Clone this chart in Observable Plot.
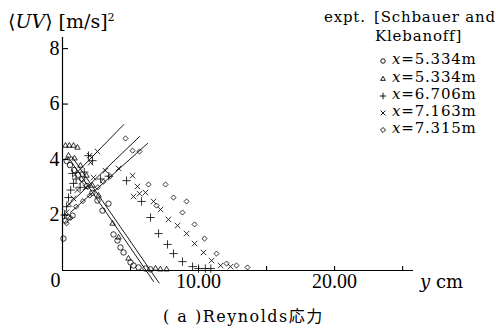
<!DOCTYPE html>
<html><head><meta charset="utf-8">
<script src="https://cdn.jsdelivr.net/npm/d3@7"></script>
<script src="https://cdn.jsdelivr.net/npm/@observablehq/plot@0.6"></script>
<style>
body{margin:0;background:#fff}
#wrap{position:relative;width:496px;height:332px;font-family:"DejaVu Serif",serif;color:#000;overflow:hidden}
#wrap svg.plot{position:absolute;left:0;top:0}
#wrap svg.plot text{font-family:"Liberation Serif",serif !important;font-size:20px !important}
.t{position:absolute;white-space:nowrap;line-height:1}
</style></head><body><div id="wrap"></div>
<script>
// ---- data ----
const seriesLabels = ["x=5.334m", "x=5.334m", "x=6.706m", "x=7.163m", "x=7.315m"];
const seriesSymbols = ["circle", "triangle2", "plus", "times", "diamond2"];

const circX = [0.07,0.22,0.44,0.74,0.3,0.55,0.85,1.15,1.45,1.8,2.2,2.57,2.94,3.38,3.75,4.04,4.26,4.49,5.0,5.22,5.59,6.1,6.47];
const circY = [1.15,1.8,1.91,1.98,3.95,3.8,3.62,3.45,3.3,3.05,2.8,2.52,2.16,2.41,1.3,1.08,0.83,0.65,0.29,0.18,0.11,0.07,0.04];

const triX = [0.22,0.5,0.81,1.1,0.44,0.88,1.32,1.76,2.2,2.65,3.68,4.12,4.85,6.84,7.2,7.65];
const triY = [4.5,4.5,4.5,4.43,4.14,4.04,3.78,3.42,3.06,2.7,1.69,1.19,0.43,0.07,0.04,0.04];

const plusX = [0.15,0.3,0.44,0.6,0.74,0.81,1.0,1.3,1.6,1.91,2.2,2.8,3.4,4.71,5.81,6.47,7.06,7.72,8.16,8.82,9.56,10.0,10.5,10.9];
const plusY = [2.0,2.3,2.63,2.9,3.5,3.14,3.3,3.0,3.55,4.14,3.96,3.3,3.4,3.24,2.49,1.91,1.33,0.94,0.61,0.32,0.14,0.07,0.07,0.07];

const timesX = [0.3,0.5,0.8,1.1,1.4,1.7,1.99,2.06,2.28,2.57,3.16,4.12,5.15,5.51,5.22,5.66,6.1,6.69,7.21,7.79,8.46,9.12,9.71,10.37,10.96,11.62,12.35];
const timesY = [2.1,2.4,2.6,2.9,3.2,3.0,4.14,3.89,3.35,4.29,3.6,3.68,3.42,3.03,2.67,2.77,2.81,2.49,2.2,1.84,1.62,1.33,0.97,0.65,0.36,0.18,0.14];

const diaX = [0.3,0.6,1.0,1.5,2.0,2.6,3.0,3.5,4.63,5.15,5.66,6.32,6.91,7.57,8.16,9.12,8.82,9.71,10.44,11.32,12.06,12.79,13.6];
const diaY = [1.7,1.9,2.3,2.5,2.7,3.0,3.2,3.4,4.76,4.32,4.29,3.1,2.34,3.1,2.63,2.49,2.09,1.66,1.15,0.61,0.25,0.18,0.11];

// straight lines drawn in the figure
const lineAX = [0.8, 4.5],  lineAY = [3.4, 5.26];
const lineBX = [0.3, 5.66], lineBY = [2.3, 4.83];
const lineCX = [0.6, 6.25], lineCY = [2.1, 4.58];
const lineDX = [0.4, 6.7],  lineDY = [4.1, -0.4];
const lineEX = [0.7, 7.1],  lineEY = [4.1, -0.45];

const yTicks = [2, 4, 6, 8];
const xTicks = [5, 10, 15, 20, 25];
const xLabelled = [10, 20];

// ---- build ----
const W = 496, H = 332, ML = 62, MR = 83, MT = 37, MB = 62;
const pts = (xs, ys) => xs.map((x, i) => ({x, y: ys[i]}));
const allSeries = [pts(circX, circY), pts(triX, triY), pts(plusX, plusY), pts(timesX, timesY), pts(diaX, diaY)];
const sizes = [2.7, 2.6, 2.8, 2.6, 2.3];
const lines = [[lineAX, lineAY], [lineBX, lineBY], [lineCX, lineCY], [lineDX, lineDY], [lineEX, lineEY]].map(([a, b]) => pts(a, b));

const axisFont = {fontFamily: "Liberation Serif", fontSize: 20};
const chart = Plot.plot({
  width: W, height: H,
  marginLeft: ML, marginRight: MR, marginTop: MT, marginBottom: MB,
  style: {fontFamily: "Liberation Serif", fontSize: "20px", background: "#fff", color: "#000"},
  x: {domain: [0, 25.8], label: null},
  y: {domain: [0, 8.4], label: null},
  marks: [
    Plot.ruleX([0], {stroke: "#000", strokeWidth: 1.2}),
    Plot.ruleY([0], {stroke: "#000", strokeWidth: 1.2}),
    Plot.tickY(yTicks, {y: d => d, stroke: "#000", strokeWidth: 1.1, insetRight: W - ML - MR - 6}),
    Plot.tickX(xTicks, {x: d => d, stroke: "#000", strokeWidth: 1.1, insetTop: H - MT - MB - 4}),
    Plot.axisY({ticks: yTicks, tickSize: 0, tickPadding: 3, tickFormat: d => String(d), label: null, ...axisFont}),
    Plot.axisX({ticks: xLabelled, tickSize: 0, tickPadding: 3, tickFormat: d => d.toFixed(2), label: null, ...axisFont}),
    Plot.text([{x: 0, y: 0}], {x: "x", y: "y", text: () => "0", textAnchor: "end", dx: -2, dy: 10, ...axisFont}),
    ...lines.map(l => Plot.line(l, {x: "x", y: "y", stroke: "#000", strokeWidth: 0.9})),
    ...allSeries.map((s, i) => Plot.dot(s, {x: "x", y: "y", symbol: () => seriesSymbols[i], r: sizes[i], stroke: "#000", strokeWidth: 0.8, fill: "none"}))
  ]
});
chart.classList.add("plot");
const wrap = document.getElementById("wrap");
wrap.appendChild(chart);

function addText(html, left, baseline, size, family, extra) {
  const d = document.createElement("div");
  d.className = "t";
  d.style.left = left + "px";
  const asc = family.includes("Liberation") ? 0.8375 : 0.846;
  d.style.top = (baseline - asc * size) + "px";
  d.style.fontSize = size + "px";
  d.style.fontFamily = family;
  if (extra) Object.assign(d.style, extra);
  d.innerHTML = html;
  wrap.appendChild(d);
  return d;
}
const serif = '"DejaVu Serif", serif';
const ls = {letterSpacing: "0.8px"};
addText('⟨<i>UV</i>⟩ [m/s]<sup style="font-size:11px;vertical-align:7px">2</sup>', 8, 28, 19, serif);
addText('<i>y</i> cm', 420, 288, 18, serif);
addText('expt.', 324, 23, 15, serif, ls);
addText('[Schbauer and', 374, 23, 15, serif, ls);
addText('Klebanoff]', 375, 42, 15, serif, ls);
addText('( a )Reynolds応力', 163, 323, 16, serif + ', "Noto Sans CJK JP"', {letterSpacing: "1.5px"});

const symMap = {circle: d3.symbolCircle, triangle2: d3.symbolTriangle2, plus: d3.symbolPlus, times: d3.symbolTimes, diamond2: d3.symbolDiamond2};
const baselines = [65, 82.5, 100, 117, 134];
seriesLabels.forEach((lab, i) => {
  const svg = d3.create("svg").attr("width", 10).attr("height", 10)
    .style("position", "absolute").style("left", "378px").style("top", (baselines[i] - 9) + "px");
  svg.append("path").attr("transform", "translate(5,5)")
    .attr("d", d3.symbol(symMap[seriesSymbols[i]], 16)())
    .attr("fill", "none").attr("stroke", "#000").attr("stroke-width", 0.9);
  wrap.appendChild(svg.node());
  addText('<i>x</i>=' + lab.slice(2), 392, baselines[i], 15, serif, ls);
});
</script>
</body></html>
